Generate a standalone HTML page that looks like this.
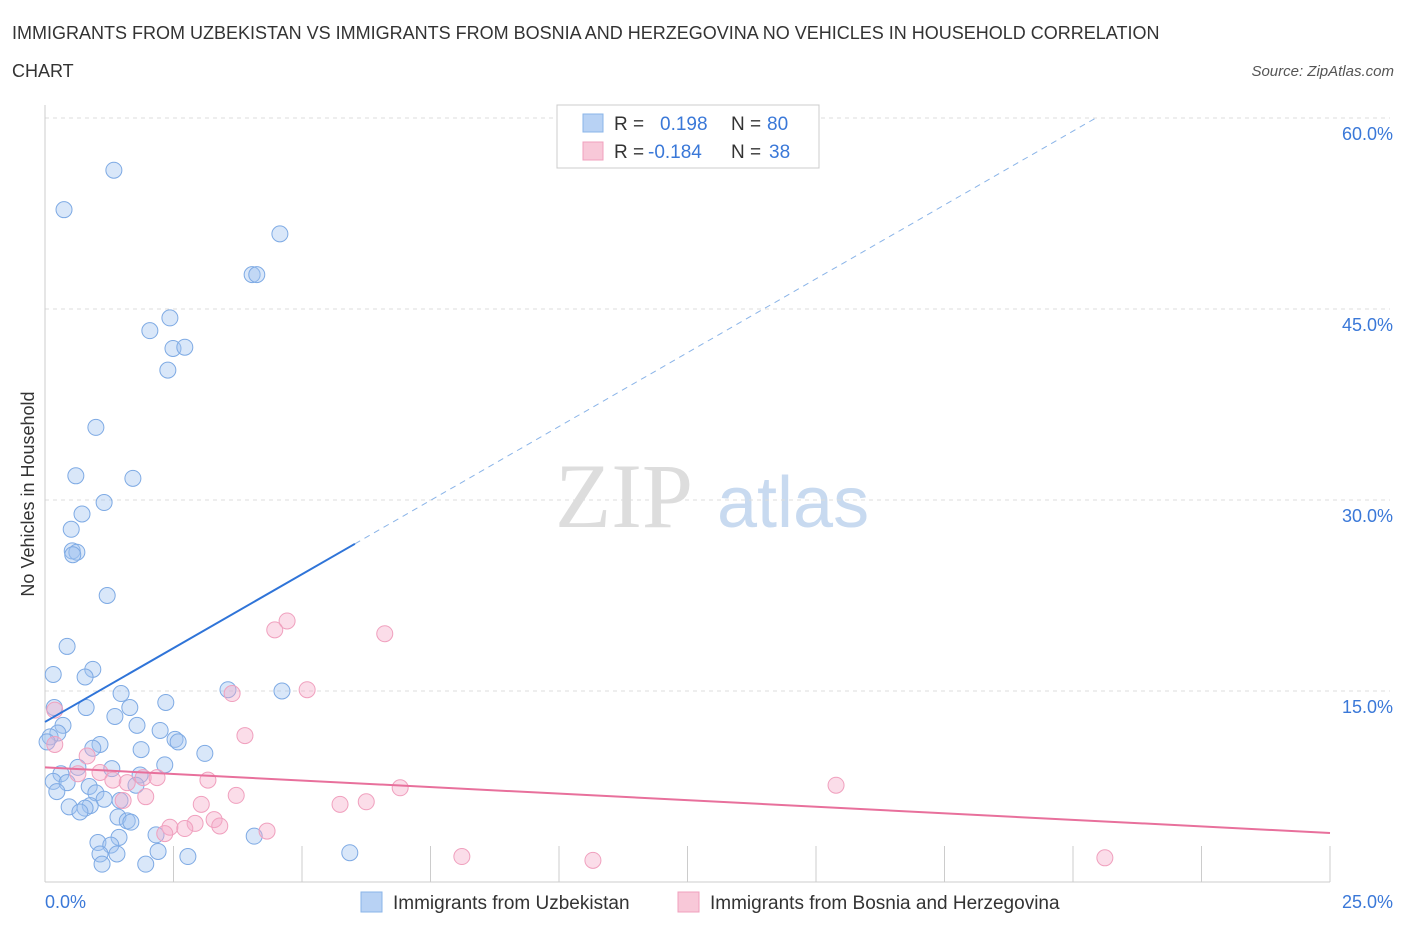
<!DOCTYPE html>
<html><head><meta charset="utf-8"><style>
body{margin:0;background:#fff;font-family:"Liberation Sans",sans-serif;}
svg text{font-family:"Liberation Sans",sans-serif;}
</style></head><body>
<svg width="1406" height="930" viewBox="0 0 1406 930" xmlns="http://www.w3.org/2000/svg">
<text x="12" y="39" font-size="18" fill="#333">IMMIGRANTS FROM UZBEKISTAN VS IMMIGRANTS FROM BOSNIA AND HERZEGOVINA NO VEHICLES IN HOUSEHOLD CORRELATION</text>
<text x="12" y="77" font-size="18" fill="#333">CHART</text>
<text x="1394" y="76" font-size="15" fill="#555" font-style="italic" text-anchor="end">Source: ZipAtlas.com</text>
<text x="555" y="527" font-size="92" fill="#ddd" font-family="Liberation Serif" style="font-family:'Liberation Serif',serif">ZIP</text>
<text x="717" y="527" font-size="72" fill="#c8daf0">atlas</text>
<g id="grid"></g>
<g id="marks"></g>
<text transform="translate(34,494) rotate(-90)" font-size="18" fill="#333" text-anchor="middle">No Vehicles in Household</text>
<g>
<rect x="557" y="105" width="262" height="63" fill="#fff" stroke="#ccc"/>
<rect x="583" y="114" width="20" height="18" fill="#b8d2f4" stroke="#8ab4e8"/>
<text x="614" y="130" font-size="19" fill="#333">R = </text><text x="660" y="130" font-size="19" fill="#3a78d8">0.198</text>
<text x="731" y="130" font-size="19" fill="#333">N = </text><text x="767" y="130" font-size="19" fill="#3a78d8">80</text>
<rect x="583" y="142" width="20" height="18" fill="#f8c8d8" stroke="#f0a0be"/>
<text x="614" y="158" font-size="19" fill="#333">R = </text><text x="648" y="158" font-size="19" fill="#3a78d8">-0.184</text>
<text x="731" y="158" font-size="19" fill="#333">N = </text><text x="769" y="158" font-size="19" fill="#3a78d8">38</text>
</g>
<g>
<rect x="361" y="892" width="21" height="20" fill="#b8d2f4" stroke="#8ab4e8"/>
<text x="393" y="909" font-size="19" fill="#333">Immigrants from Uzbekistan</text>
<rect x="678" y="892" width="21" height="20" fill="#f8c8d8" stroke="#f0a0be"/>
<text x="710" y="909" font-size="19" fill="#333">Immigrants from Bosnia and Herzegovina</text>
</g>
</svg>
<script>
const yTicks=[15,30,45,60];
const yTickLabels=["15.0%","30.0%","45.0%","60.0%"];
const xTickVals=[0,2.5,5,7.5,10,12.5,15,17.5,20,22.5,25];
const xEndLabels=["0.0%","25.0%"];
const blueX=[1.34,0.37,4.57,4.03,4.12,2.43,2.04,2.49,2.72,2.39,0.99,0.60,1.71,1.15,0.72,0.51,0.53,0.62,0.54,1.21,0.43,0.16,0.93,0.78,3.56,4.61,1.48,2.35,0.18,0.80,1.65,1.36,1.79,0.35,2.24,0.25,0.10,0.04,2.53,2.59,1.07,0.93,1.87,3.11,2.33,0.64,1.30,0.31,1.85,0.16,0.43,0.86,1.77,0.23,0.99,1.15,1.46,0.47,0.88,0.78,0.68,1.42,1.60,1.67,1.44,2.16,4.07,1.03,1.28,1.07,1.40,2.20,2.78,5.93,1.11,1.96];
const blueY=[55.9,52.8,50.9,47.7,47.7,44.3,43.3,41.9,42.0,40.2,35.7,31.9,31.7,29.8,28.9,27.7,26.0,25.9,25.7,22.5,18.5,16.3,16.7,16.1,15.1,15.0,14.8,14.1,13.7,13.7,13.7,13.0,12.3,12.3,11.9,11.7,11.4,11.0,11.2,11.0,10.8,10.5,10.4,10.1,9.2,9.0,8.9,8.5,8.4,7.9,7.8,7.5,7.6,7.1,7.0,6.5,6.4,5.9,6.0,5.8,5.5,5.1,4.8,4.7,3.5,3.7,3.6,3.1,2.9,2.2,2.2,2.4,2.0,2.3,1.4,1.4];
const pinkX=[4.71,4.47,6.61,5.10,3.64,0.19,3.89,0.19,0.82,0.64,1.07,1.32,1.91,2.18,3.17,1.60,6.91,15.39,3.72,1.96,1.52,3.04,5.74,6.25,3.29,2.92,2.43,2.72,3.40,4.32,2.33,8.11,10.66,20.62];
const pinkY=[20.5,19.8,19.5,15.1,14.8,13.5,11.5,10.8,9.9,8.5,8.6,8.0,8.2,8.2,8.0,7.8,7.4,7.6,6.8,6.7,6.4,6.1,6.1,6.3,4.9,4.6,4.3,4.2,4.4,4.0,3.8,2.0,1.7,1.9];
const blueTrend=[12.57,2.32]; // intercept, slope
const pinkTrend=[9.0,-0.206];
const X0=45,X1=1330,YB=882,YT=118;
const sx=v=>X0+v/25*(X1-X0);
const sy=v=>YB-v/60*(YB-YT);
const NS="http://www.w3.org/2000/svg";
function mk(tag,attrs,parent){const e=document.createElementNS(NS,tag);for(const k in attrs)e.setAttribute(k,attrs[k]);parent.appendChild(e);return e;}
const grid=document.getElementById('grid'),marks=document.getElementById('marks');
yTicks.forEach((t,i)=>{
 const l=mk('line',{x1:X0,x2:X1+60,y1:sy(t),y2:sy(t),stroke:'#ddd','stroke-dasharray':'4,4'},grid);
 
 
 const tx=mk('text',{x:1393,y:sy(t)+22,'font-size':18,fill:'#3a78d8','text-anchor':'end'},grid);
 tx.textContent=yTickLabels[i];
 
 
});
xTickVals.forEach(t=>{
 const l=mk('line',{x1:sx(t),x2:sx(t),y1:846,y2:YB,stroke:'#ccc'},grid);
 
 
});
let a=mk('line',{x1:X0,x2:X0,y1:105,y2:YB,stroke:'#ccc'},grid);


a=mk('line',{x1:X0,x2:X1,y1:YB,y2:YB,stroke:'#ccc'},grid);


let t0=mk('text',{x:45,y:908,'font-size':18,fill:'#3a78d8'},grid);t0.textContent=xEndLabels[0];


let t1=mk('text',{x:1393,y:908,'font-size':18,fill:'#3a78d8','text-anchor':'end'},grid);t1.textContent=xEndLabels[1];


blueX.forEach((x,i)=>{
 const c=mk('circle',{cx:sx(x),cy:sy(blueY[i]),r:8,fill:'rgba(160,196,240,0.4)',stroke:'#7eaae4','stroke-width':1},marks);
 
 
});
pinkX.forEach((x,i)=>{
 const c=mk('circle',{cx:sx(x),cy:sy(pinkY[i]),r:8,fill:'rgba(244,170,200,0.4)',stroke:'#f0a0be','stroke-width':1},marks);
 
 
});
const bx1=6.03,bx2=20.43;
let bl=mk('line',{x1:sx(0),y1:sy(blueTrend[0]),x2:sx(bx1),y2:sy(blueTrend[0]+blueTrend[1]*bx1),stroke:'#2f74d8','stroke-width':2},marks);


let bd=mk('line',{x1:sx(bx1),y1:sy(blueTrend[0]+blueTrend[1]*bx1),x2:sx(bx2),y2:sy(blueTrend[0]+blueTrend[1]*bx2),stroke:'#8ab4e8','stroke-width':1,'stroke-dasharray':'6,5'},marks);


let pl=mk('line',{x1:sx(0),y1:sy(pinkTrend[0]),x2:sx(25),y2:sy(pinkTrend[0]+pinkTrend[1]*25),stroke:'#e8709c','stroke-width':2},marks);


</script>
</body></html>
